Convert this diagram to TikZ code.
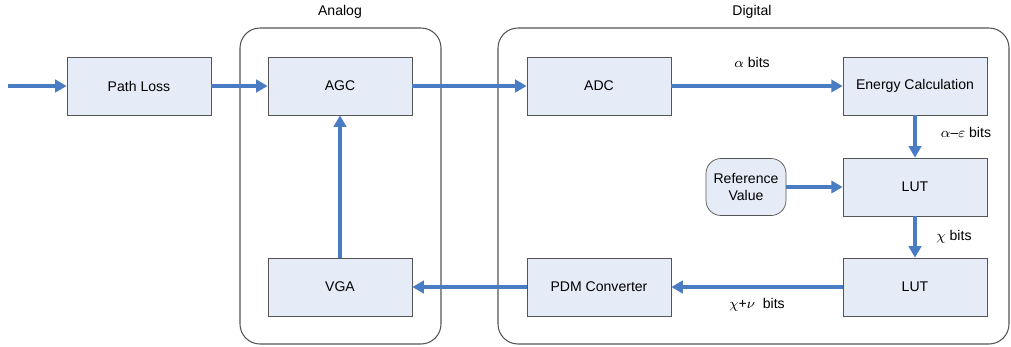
\documentclass[tikz,border=0pt]{standalone}
\usepackage{fontspec}
\setmainfont{Liberation Sans}
\usetikzlibrary{arrows.meta}
\definecolor{boxfill}{HTML}{E6ECF7}
\definecolor{linkblue}{HTML}{4A7CC4}
\definecolor{edgegray}{HTML}{555555}
\tikzset{
  block/.style={draw=edgegray, fill=boxfill, minimum width=2.88cm, minimum height=1.16cm, font=\fontsize{8}{9.6}\selectfont},
  refblock/.style={block, rounded corners=0.3cm, minimum width=1.6cm, minimum height=1.14cm, align=center},
  zonebox/.style={draw=edgegray, rounded corners=0.4cm, line width=0.6pt},
  link/.style={draw=linkblue, line width=1.9pt, -{Triangle[length=6.5pt,width=7pt]}},
  tag/.style={font=\fontsize{8}{9.6}\selectfont}
}
\begin{document}
\begin{tikzpicture}[x=0.02cm,y=-0.02cm]
\useasboundingbox (0,0) rectangle (1011,346);
%draw containers:
\draw [zonebox] (240,28) rectangle (441,344);
\draw [zonebox] (498,28) rectangle (1009,344);
\node [tag] (analog) at (340,12) {Analog};
\node [tag] (digital) at (752,12) {Digital};
%draw blocks:
\node [block] (pathloss) at (139,86) {Path Loss};
\node [block] (agc) at (340,86) {AGC};
\node [block] (vga) at (340,287) {VGA};
\node [block] (adc) at (599,86) {ADC};
\node [block] (energy) at (915,86) {Energy Calculation};
\node [refblock] (refval) at (746,187) {Reference\\Value};
\node [block] (lut1) at (915,187) {LUT};
\node [block] (lut2) at (915,287) {LUT};
\node [block] (pdm) at (599,287) {PDM Converter};
%draw links:
\coordinate (input) at (8,86);
\draw [link] (input) -- (pathloss);
\draw [link] (pathloss) -- (agc);
\draw [link] (agc) -- (adc);
\draw [link] (adc) -- (energy);
\draw [link] (energy) -- (lut1);
\draw [link] (refval) -- (lut1);
\draw [link] (lut1) -- (lut2);
\draw [link] (lut2) -- (pdm);
\draw [link] (pdm) -- (vga);
\draw [link] (vga) -- (agc);
%draw labels:
\node [tag] (abits) at (752,62) {$\alpha$ bits};
\node [tag] (aebits) at (966,132) {$\alpha$--$\varepsilon$ bits};
\node [tag] (cbits) at (954,237) {$\chi$ bits};
\node [tag] (cnbits) at (757,305) {$\chi$+$\nu$\ \ bits};
\end{tikzpicture}
\end{document}
